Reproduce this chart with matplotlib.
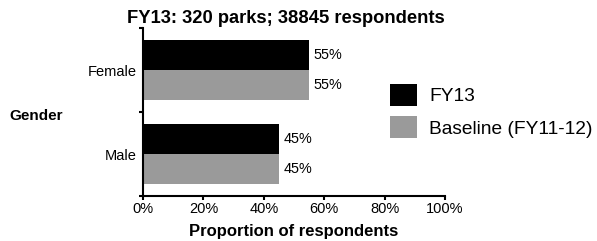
import matplotlib
matplotlib.use("Agg")
import matplotlib.pyplot as plt
import numpy as np

plt.rcParams['font.family'] = ['Liberation Sans', 'DejaVu Sans']

categories = ["Male", "Female"]
fy13 = [45, 55]
baseline = [45, 55]
series_labels = ["FY13", "Baseline (FY11-12)"]
xticks = [0, 20, 40, 60, 80, 100]
xtick_labels = ["0%", "20%", "40%", "60%", "80%", "100%"]
title = "FY13: 320 parks; 38845 respondents"

fig = plt.figure(figsize=(5.97, 2.41), dpi=100)
ax = fig.add_axes([143/597, 1-196/241, 302/597, 168/241])

y = np.arange(len(categories))
h = 0.357
c_black = "#000000"
c_gray = "#9a9a9a"
b1 = ax.barh(y + h/2, fy13, height=h, color=c_black, label=series_labels[0])
b2 = ax.barh(y - h/2, baseline, height=h, color=c_gray, label=series_labels[1])

for rects, vals in ((b1, fy13), (b2, baseline)):
    for r, v in zip(rects, vals):
        ax.text(r.get_width() + 1.6, r.get_y() + r.get_height()/2, f"{v}%",
                va="center", ha="left", fontsize=10.4)

ax.set_xlim(0, 100)
ax.set_ylim(-0.5, len(categories) - 0.5)
ax.set_xticks(xticks)
ax.set_xticklabels(xtick_labels, fontsize=10.5)
ax.set_yticks(y)
ax.set_yticklabels(categories, fontsize=10.5)
ax.set_yticks(np.arange(-0.5, len(categories)), minor=True)
ax.tick_params(axis="y", which="major", length=0, pad=4.3)
ax.tick_params(axis="y", which="minor", length=3, width=1.5, direction="out")
ax.tick_params(axis="x", which="major", length=3, width=1.5, direction="out", pad=1.5)

for s in ("top", "right"):
    ax.spines[s].set_visible(False)
for s in ("left", "bottom"):
    ax.spines[s].set_linewidth(1.5)

ax.set_xlabel("Proportion of respondents", fontsize=12, fontweight="bold")
ax.xaxis.set_label_coords(0.5, -(236-196)/168)
ax.xaxis.label.set_va("baseline")

fig.text(286/597, 1-23.3/241, title, ha="center", va="baseline",
         fontsize=13.2, fontweight="bold")
fig.text(9/597, 1-120/241, "Gender", ha="left", va="baseline",
         fontsize=11, fontweight="bold")

fig.legend(handles=[b1, b2], labels=series_labels, loc="upper left",
           bbox_to_anchor=(390/597, 1-84/241), frameon=False, fontsize=13.8,
           handlelength=1.4, handleheight=1.38, handletextpad=0.65,
           labelspacing=0.55, borderpad=0, borderaxespad=0)

fig.savefig("out.png", dpi=100)
